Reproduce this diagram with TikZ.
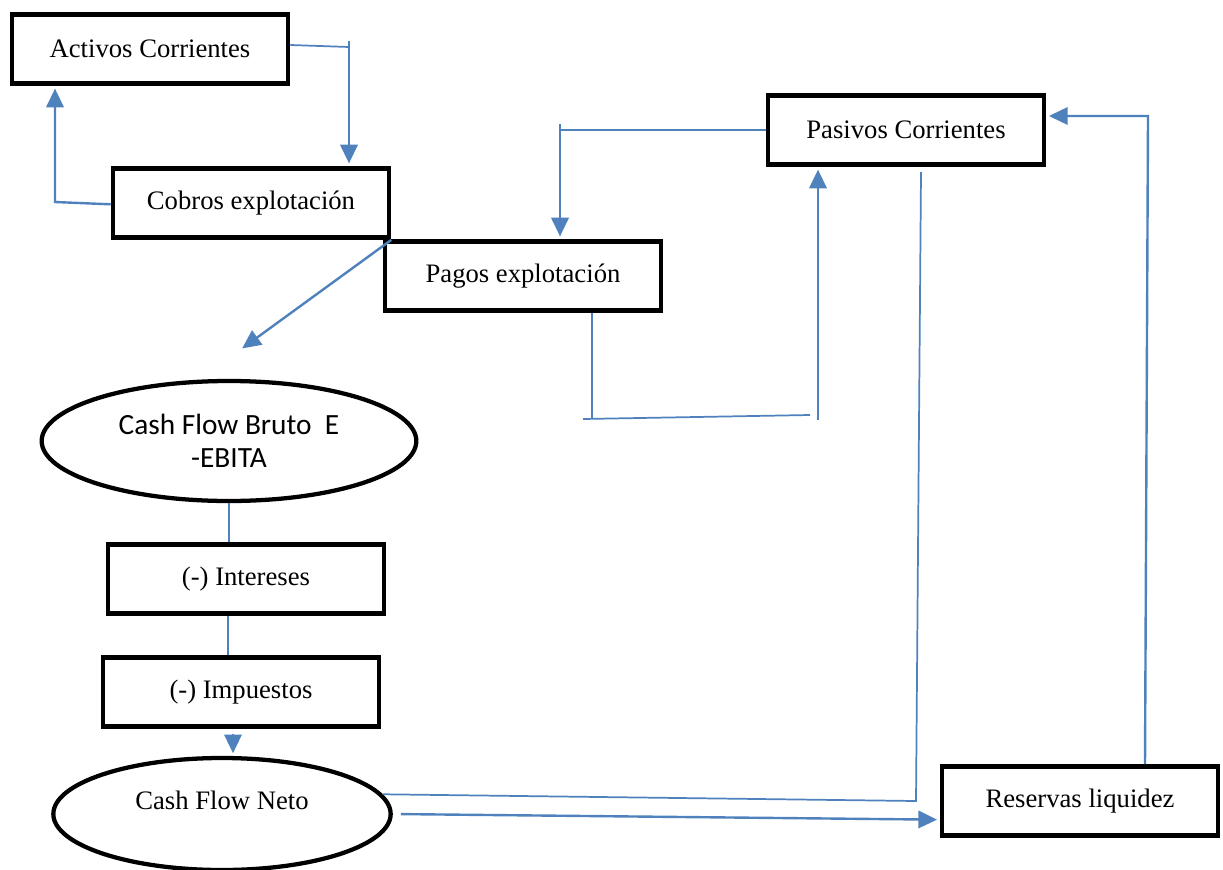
\documentclass[tikz,border=0pt]{standalone}
\usepackage{fontspec}
\setmainfont{Liberation Serif}
\newfontfamily\calibrifont{Carlito}
\usetikzlibrary{arrows.meta,shapes.geometric}
\definecolor{linkblue}{RGB}{79,129,189}
\begin{document}
\begin{tikzpicture}[x=0.75pt,y=-0.75pt,
        box/.style={rectangle,draw=black,line width=3.4pt,fill=white,
          inner sep=0pt,minimum width=207pt,minimum height=52pt,
          font=\fontsize{20}{24}\selectfont},
        oval/.style={ellipse,draw=black,line width=3.2pt,fill=white,inner sep=0pt},
        link/.style={draw=linkblue,line width=1.3pt},
        flow/.style={link,line width=1.8pt,-{Triangle[length=14pt,width=13pt]},shorten >=2pt}]
      \useasboundingbox (0,0) rectangle (1223,870);
      \node (act) at (150,49) [box] {Activos Corrientes};
      \node (cob) at (251,203) [box] {Cobros explotación};
      \node (pag) at (523,276) [box] {Pagos explotación};
      \node (pas) at (906,130) [box] {Pasivos Corrientes};
      \node (bru) at (229,441) [oval,minimum width=281pt,minimum height=90pt,
        align=center,font=\calibrifont\fontsize{22}{25}\selectfont]
        {Cash Flow Bruto\ \ E\\-EBITA};
      \node (int) at (246,579) [box] {(-) Intereses};
      \node (imp) at (241,692) [box] {(-) Impuestos};
      \node (net) at (222,814) [oval,minimum width=253pt,minimum height=84pt,
        text depth=20pt,font=\fontsize{20}{24}\selectfont] {Cash Flow Neto};
      \node (res) at (1080,801) [box] {Reservas liquidez};
      % free ends and bends
      \coordinate (actbend) at (349,47);
      \coordinate (acttop) at (349,41);
      \coordinate (cobleft) at (55,202);
      \coordinate (bruin) at (240,350);
      \coordinate (pasbend) at (560,130);
      \coordinate (pastop) at (560,124);
      \coordinate (pagdown) at (592,418);
      \coordinate (pagleft) at (583,419);
      \coordinate (pagright) at (810,415);
      \coordinate (pasup) at (818,420);
      \coordinate (pasfoot) at (921,172);
      \coordinate (pasdown) at (916,801);
      \coordinate (resfoot) at (1145,0);
      \coordinate (resup) at (1148,116);
      \coordinate (intlink) at (228,0);
      \coordinate (implink) at (233,0);
      % connectors
      \draw[link] ([yshift=3pt]act.east) -- (actbend);
      \draw[flow] (acttop) -- (acttop |- cob.north);
      \draw[flow] ([yshift=-1pt]cob.west) -- (cobleft) -- (cobleft |- act.south);
      \draw[flow] (cob.south east) -- (bruin);
      \draw[link] (pas.west) -- (pasbend);
      \draw[flow] (pastop) -- (pastop |- pag.north);
      \draw[link] (pagdown |- pag.south) -- (pagdown);
      \draw[link] (pagleft) -- (pagright);
      \draw[flow] (pasup) -- (pasup |- pas.south);
      \draw[link] (pasfoot) -- (pasdown) -- (net.7);
      \draw[flow] (net.east) [shorten <=6pt] -- ([yshift=-14pt]res.west);
      \draw[flow] (resfoot |- res.north) -- (resup) -- (resup -| pas.east);
      \draw[link] (bru.south) -- (bru.south |- int.north);
      \draw[link] (intlink |- int.south) -- (intlink |- imp.north);
      \draw[flow] (implink |- imp.south) [shorten <=4pt] -- (implink |- net.north);
\end{tikzpicture}
\end{document}
